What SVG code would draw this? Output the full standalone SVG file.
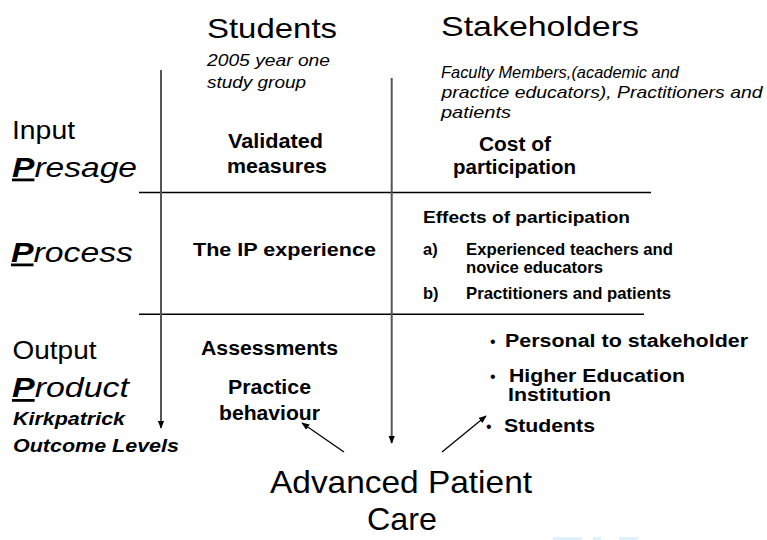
<svg xmlns="http://www.w3.org/2000/svg" width="767" height="540" viewBox="0 0 767 540">
  <style>
    text { font-family: "Liberation Sans", Arial, sans-serif; fill: #000; }
    .head { font-size: 28px; }
    .sub { font-size: 16.5px; font-style: italic; }
    .stage { font-size: 26px; }
    .pword { font-size: 28px; font-style: italic; }
    .pword tspan.p { font-weight: bold; text-decoration: underline; }
    .cell { font-size: 20px; font-weight: bold; }
    .small { font-size: 16.5px; font-weight: bold; }
    .item { font-size: 17.5px; font-weight: bold; }
    .kirk { font-size: 19px; font-weight: bold; font-style: italic; }
    .care { font-size: 32px; }
    .bul { font-size: 16px; }
    .rule { stroke: #000; stroke-width: 1.5; fill: none; }
    .axis { stroke: #555; stroke-width: 2; fill: none; }
    .link { stroke: #000; stroke-width: 1.3; fill: none; }
  </style>
  <defs>
    <marker id="tip" viewBox="0 0 10 10" refX="9" refY="5" markerWidth="8" markerHeight="8" markerUnits="userSpaceOnUse" orient="auto">
      <path d="M0,1 L10,5 L0,9 Z" fill="#000"/>
    </marker>
  </defs>

  <!-- column headings -->
  <g id="students-head">
    <text class="head" x="207" y="38" textLength="130" lengthAdjust="spacingAndGlyphs">Students</text>
    <text class="sub" x="207" y="65.5" textLength="123" lengthAdjust="spacingAndGlyphs">2005 year one</text>
    <text class="sub" x="207" y="88" textLength="99" lengthAdjust="spacingAndGlyphs">study group</text>
  </g>
  <g id="stakeholders-head">
    <text class="head" x="441" y="36" textLength="198" lengthAdjust="spacingAndGlyphs">Stakeholders</text>
    <text class="sub" x="441" y="78" textLength="238" lengthAdjust="spacingAndGlyphs">Faculty Members,(academic and</text>
    <text class="sub" x="441.5" y="97.5" textLength="321" lengthAdjust="spacingAndGlyphs">practice educators), Practitioners and</text>
    <text class="sub" x="441" y="117.5" textLength="70" lengthAdjust="spacingAndGlyphs">patients</text>
  </g>

  <!-- row labels -->
  <g id="presage">
    <text class="stage" x="12" y="139" textLength="63" lengthAdjust="spacingAndGlyphs">Input</text>
    <text class="pword" x="12" y="176.5" textLength="125" lengthAdjust="spacingAndGlyphs"><tspan class="p">P</tspan>resage</text>
  </g>
  <g id="process">
    <text class="pword" x="11" y="261.5" textLength="122" lengthAdjust="spacingAndGlyphs"><tspan class="p">P</tspan>rocess</text>
  </g>
  <g id="product">
    <text class="stage" x="12.5" y="359" textLength="84" lengthAdjust="spacingAndGlyphs">Output</text>
    <text class="pword" x="12" y="397" textLength="117" lengthAdjust="spacingAndGlyphs"><tspan class="p">P</tspan>roduct</text>
    <text class="kirk" x="13" y="425" textLength="112" lengthAdjust="spacingAndGlyphs">Kirkpatrick</text>
    <text class="kirk" x="13" y="451.5" textLength="166" lengthAdjust="spacingAndGlyphs">Outcome Levels</text>
  </g>

  <!-- grid cells -->
  <g id="validated-measures">
    <text class="cell" x="228" y="148" textLength="95" lengthAdjust="spacingAndGlyphs">Validated</text>
    <text class="cell" x="227" y="173" textLength="100" lengthAdjust="spacingAndGlyphs">measures</text>
  </g>
  <g id="cost-of-participation">
    <text class="cell" x="479" y="150.5" textLength="72" lengthAdjust="spacingAndGlyphs">Cost of</text>
    <text class="cell" x="453" y="173.5" textLength="123" lengthAdjust="spacingAndGlyphs">participation</text>
  </g>
  <g id="ip-experience">
    <text class="cell" style="font-size:19px" x="193" y="256" textLength="183" lengthAdjust="spacingAndGlyphs">The IP experience</text>
  </g>
  <g id="effects-of-participation">
    <text class="cell" style="font-size:17px" x="423" y="223" textLength="207" lengthAdjust="spacingAndGlyphs">Effects of participation</text>
    <text class="small" x="423" y="255">a)</text>
    <text class="small" x="466" y="255" textLength="207" lengthAdjust="spacingAndGlyphs">Experienced teachers and</text>
    <text class="small" x="466" y="273" textLength="137" lengthAdjust="spacingAndGlyphs">novice educators</text>
    <text class="small" x="423" y="299">b)</text>
    <text class="small" x="466" y="299" textLength="205" lengthAdjust="spacingAndGlyphs">Practitioners and patients</text>
  </g>
  <g id="assessments">
    <text class="cell" x="201" y="355" textLength="137" lengthAdjust="spacingAndGlyphs">Assessments</text>
    <text class="cell" x="228" y="394" textLength="83" lengthAdjust="spacingAndGlyphs">Practice</text>
    <text class="cell" x="219" y="420" textLength="101" lengthAdjust="spacingAndGlyphs">behaviour</text>
  </g>
  <g id="stakeholder-outcomes">
    <text class="bul" x="490" y="346.5">•</text>
    <text class="item" x="505" y="346.5" textLength="243" lengthAdjust="spacingAndGlyphs">Personal to stakeholder</text>
    <text class="bul" x="490" y="381.5">•</text>
    <text class="item" x="509" y="381.5" textLength="176" lengthAdjust="spacingAndGlyphs">Higher Education</text>
    <text class="item" x="508" y="400.5" textLength="103" lengthAdjust="spacingAndGlyphs">Institution</text>
    <text class="bul" x="486" y="431.5">•</text>
    <text class="item" x="504" y="431.5" textLength="91" lengthAdjust="spacingAndGlyphs">Students</text>
  </g>
  <g id="advanced-patient-care">
    <text class="care" x="270" y="493" textLength="262" lengthAdjust="spacingAndGlyphs">Advanced Patient</text>
    <text class="care" x="367" y="530" textLength="70" lengthAdjust="spacingAndGlyphs">Care</text>
  </g>

  <!-- grid rules and arrows -->
  <g id="connectors">
    <line class="rule" x1="139" y1="192.5" x2="651" y2="192.5"/>
    <line class="rule" x1="139" y1="314.3" x2="644" y2="314.3"/>
    <line class="axis" x1="161" y1="70" x2="161" y2="428" marker-end="url(#tip)"/>
    <line class="axis" x1="391.7" y1="78" x2="391.7" y2="443" marker-end="url(#tip)"/>
    <line class="link" x1="344" y1="452" x2="302" y2="423" marker-end="url(#tip)"/>
    <line class="link" x1="442" y1="452" x2="486" y2="416" marker-end="url(#tip)"/>
  </g>

  <!-- faint strip along the bottom edge -->
  <g id="edge-marks" fill="#d2eefc">
    <rect x="553" y="537.5" width="29" height="2"/>
    <rect x="593" y="537.5" width="8" height="2"/>
    <rect x="619" y="537.5" width="19" height="2"/>
  </g>
</svg>
